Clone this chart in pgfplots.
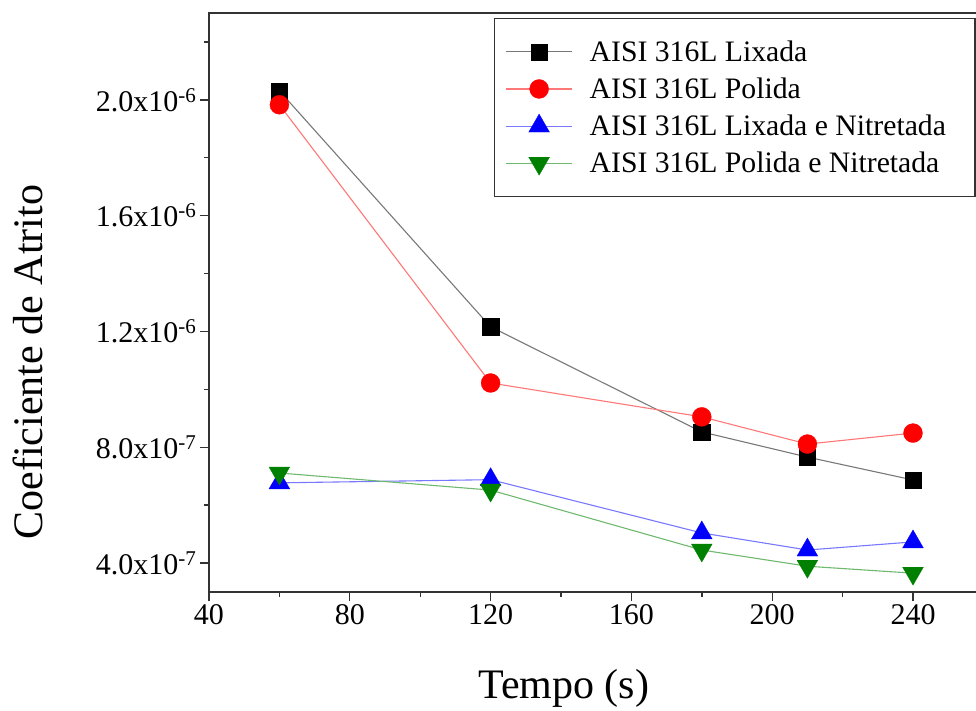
\documentclass[border=0pt]{standalone}
\usepackage{fontspec}
\setmainfont{Liberation Serif}
\usepackage{pgfplots}
\pgfplotsset{compat=1.18}
\definecolor{lgray}{RGB}{120,120,120}
\definecolor{lred}{RGB}{255,120,120}
\definecolor{lblue}{RGB}{120,120,255}
\definecolor{lgreen}{RGB}{110,185,110}
\definecolor{dgreen}{RGB}{0,128,0}
\begin{document}
\begin{tikzpicture}
\begin{axis}[name=ax,
  scale only axis, width=774.4pt, height=579pt,
  xmin=40, xmax=260, ymin=3e-7, ymax=2.3e-6,
  xtick={40,80,120,160,200,240}, minor xtick={60,100,140,180,220},
  ytick={4e-7,8e-7,1.2e-6,1.6e-6,2.0e-6},
  minor ytick={6e-7,1e-6,1.4e-6,1.8e-6,2.2e-6},
  yticklabels={4.0x10\textsuperscript{-7},8.0x10\textsuperscript{-7},1.2x10\textsuperscript{-6},1.6x10\textsuperscript{-6},2.0x10\textsuperscript{-6}},
  scaled y ticks=false,
  xtick pos=left, ytick pos=left,
  tick align=outside,
  major tick length=9pt, minor tick length=5pt,
  every tick/.style={line width=1.4pt, black!80},
  axis line style={line width=1.6pt, black!80},
  tick label style={font=\fontsize{30}{36}\selectfont},
  /pgf/number format/assume math mode=true,
  xlabel={Tempo (s)},
  ylabel={Coeficiente de Atrito},
  label style={font=\fontsize{42}{50}\selectfont},
  xlabel style={at={(axis description cs:0.458,-0.166)}, anchor=center},
  ylabel style={at={(axis description cs:-0.2337,0.397)}, anchor=center},
  legend cell align=left,
  legend image code/.code={\draw[mark repeat=2,mark phase=2,#1] plot coordinates {(0pt,0pt) (33pt,0pt) (66pt,0pt)}; \path (81pt,0pt);},
  legend style={at={(0.368,0.991)}, anchor=north west, draw=black!80, line width=1.2pt,
    font=\fontsize{29.7}{35}\selectfont, inner xsep=11pt, inner ysep=20pt, row sep=11pt},
]
\addplot[lgray, line width=1.1pt, mark=square*, mark size=8.2pt, mark options={solid, fill=black, draw=black, line width=0.3pt}]
  coordinates {(60,2.031e-6) (120,1.216e-6) (180,0.853e-6) (210,0.766e-6) (240,0.687e-6)};
\addlegendentry{AISI 316L Lixada}
\addplot[lred, line width=1.1pt, mark=*, mark size=9.5pt, mark options={solid, fill=red, draw=red, line width=0.3pt}]
  coordinates {(60,1.983e-6) (120,1.022e-6) (180,0.905e-6) (210,0.811e-6) (240,0.849e-6)};
\addlegendentry{AISI 316L Polida}
\addplot[lblue, line width=1.1pt, mark=triangle*, mark size=12pt, mark options={solid, fill=blue, draw=blue, line width=0.3pt}]
  coordinates {(60,0.677e-6) (120,0.688e-6) (180,0.504e-6) (210,0.445e-6) (240,0.473e-6)};
\addlegendentry{AISI 316L Lixada e Nitretada\rule{16pt}{0pt}}
\addplot[lgreen, line width=1.1pt, mark=triangle*, mark size=12pt, mark options={solid, rotate=180, fill=dgreen, draw=dgreen, line width=0.3pt}]
  coordinates {(60,0.711e-6) (120,0.652e-6) (180,0.445e-6) (210,0.389e-6) (240,0.365e-6)};
\addlegendentry{AISI 316L Polida e Nitretada}
\end{axis}
\pgfresetboundingbox
\path[use as bounding box] ([xshift=-209pt,yshift=-119pt]ax.south west) rectangle ([xshift=767pt,yshift=13pt]ax.north west);
\end{tikzpicture}
\end{document}
